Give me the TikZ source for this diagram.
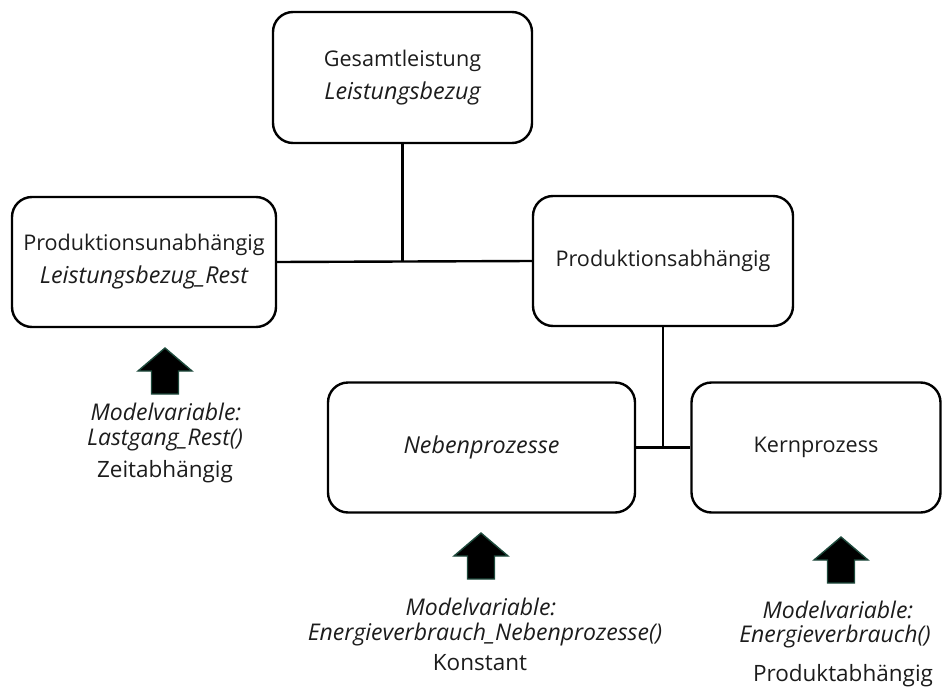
\documentclass[tikz,border=0pt]{standalone}
\usepackage{fontspec}
\setmainfont{Open Sans}
\newcommand{\boxit}[1]{{\fontsize{23.3}{33}\selectfont\itshape #1}}
\newcommand{\capit}[1]{{\fontsize{23}{26}\selectfont\itshape #1}}
\begin{document}
\begin{tikzpicture}[x=1pt,y=-1pt,
  box/.style={draw, line width=2.4pt, rounded corners=20pt, align=center,
    font=\fontsize{21.6}{33}\selectfont, inner sep=0pt, text=txt},
  link/.style={line width=2.4pt},
  caption/.style={font=\fontsize{22.5}{26}\selectfont, inner sep=0pt, anchor=center, text=txt},
  uparrow/.pic={
    \filldraw[fill=black, draw=arrowedge, line width=1.4pt, line join=miter]
      (-13.5,46) -- (-13.5,23) -- (-27,23) -- (0,0) -- (27,23) -- (13.5,23) -- (13.5,46) -- cycle;
  }]
\definecolor{arrowedge}{HTML}{1E4A3C}
\definecolor{txt}{HTML}{1C1C1C}
\useasboundingbox (0,0) rectangle (942,693);

% boxes
\node[box, minimum width=259pt, minimum height=131pt] (ges) at (402.5,77.5)
  {Gesamtleistung\\\boxit{Leistungsbezug}};
\node[box, minimum width=264pt, minimum height=130pt] (unab) at (144,262)
  {Produktionsunabhängig\\\boxit{Leistungsbezug\_Rest}};
\node[box, minimum width=260pt, minimum height=130pt] (ab) at (663,261)
  {Produktionsabhängig};
\node[box, minimum width=307pt, minimum height=130pt] (neben) at (481.5,447.5)
  {\boxit{Nebenprozesse}};
\node[box, minimum width=249pt, minimum height=130pt] (kern) at (816,447.5)
  {Kernprozess};

% connectors
\coordinate (j1) at (ges.south |- unab.east);
\draw[link] (unab.east) -- (ab.west);
\draw[link] (ges.south) -- (j1);
\coordinate (j2) at (ab.south |- neben.east);
\draw[link] (neben.east) -- (kern.west);
\draw[link] (ab.south) -- (j2);

% up arrows
\pic (a1) at (165,348) {uparrow};
\pic (a2) at (481,533) {uparrow};
\pic (a3) at (841,537) {uparrow};

% captions
\node[caption] (c1a) at (166,412) {\capit{Modelvariable:}};
\node[caption] (c1b) at (165,440) {\capit{Lastgang\_Rest()}};
\node[caption] (c1c) at (165,472) {Zeitabhängig};

\node[caption] (c2a) at (481,607) {\capit{Modelvariable:}};
\node[caption] (c2b) at (485,635) {\capit{Energieverbrauch\_Nebenprozesse()}};
\node[caption] (c2c) at (480,663) {Konstant};

\node[caption] (c3a) at (838,610) {\capit{Modelvariable:}};
\node[caption] (c3b) at (835,637) {\capit{Energieverbrauch()}};
\node[caption] (c3c) at (843,676) {Produktabhängig};
\end{tikzpicture}
\end{document}
